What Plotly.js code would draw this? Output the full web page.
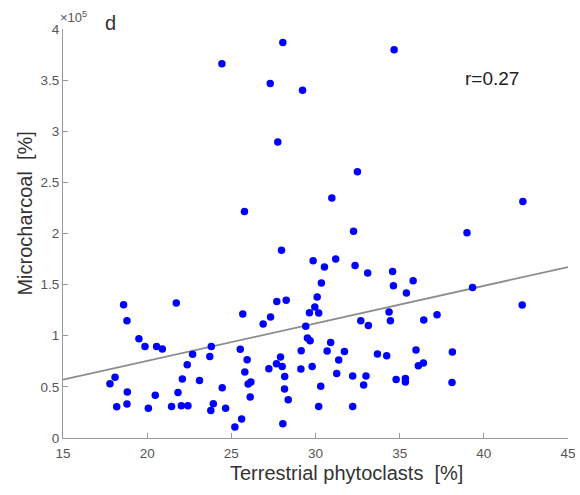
<!DOCTYPE html>
<html>
<head>
<meta charset="utf-8">
<script src="https://cdn.plot.ly/plotly-3.0.1.min.js"></script>
<style>html,body{margin:0;padding:0;background:#fff;}#chart{width:580px;height:495px;}</style>
</head>
<body>
<div id="chart"></div>
<script>
// Terrestrial phytoclasts [%]
var phytoclasts = [
  18.60, 18.80, 21.73, 19.51, 19.87, 20.56, 20.90, 18.09, 17.79, 18.82,
  18.19, 18.80, 20.07, 20.48, 21.45, 22.03, 22.42, 21.83, 22.09, 22.38,
  22.70, 23.11, 23.81, 23.72, 24.46, 23.93, 23.78, 24.66, 33.10, 30.35,
  30.10, 27.70, 28.26, 25.68, 27.33, 26.89, 29.64, 29.96, 30.19, 29.42,
  29.52, 29.68, 32.69, 33.14, 25.53, 25.94, 25.80, 26.16, 26.00, 26.12,
  25.61, 25.21, 27.92, 27.68, 28.02, 27.23, 28.17, 28.16, 28.38, 28.06,
  29.15, 29.13, 29.80, 30.90, 30.69, 31.38, 31.72, 31.26, 30.31, 30.19,
  32.21, 33.00, 32.86, 32.21, 34.58, 34.63, 35.80, 35.40, 39.33, 42.28,
  34.37, 34.45, 36.43, 37.22, 33.68, 34.23, 35.97, 38.13, 36.11, 36.41,
  34.79, 35.34, 35.34, 38.11, 28.06, 24.44, 34.67, 27.31, 29.23, 27.76,
  32.49, 30.97, 42.32, 25.78, 32.26, 39.00, 27.98, 29.86, 31.20, 30.53,
  32.35
];
// Microcharcoal [%]
var microcharcoal = [
  130400, 114700, 132000, 97100, 89600, 89600, 87000, 59300, 53100, 45000,
  30600, 33200, 29000, 41700, 30900, 31600, 31600, 44600, 57700, 71700,
  81800, 56300, 89600, 79800, 49200, 33500, 27000, 29000, 161400, 151600,
  137900, 133600, 134600, 121300, 118300, 111500, 122500, 128100, 122200, 109200,
  97800, 95200, 114700, 110100, 86700, 76600, 64500, 54800, 52800, 40100,
  18600, 10800, 79200, 72700, 70000, 67800, 60200, 47900, 37500, 14000,
  85400, 67500, 70000, 93500, 85100, 76300, 84700, 63200, 50500, 30900,
  60600, 60600, 51800, 30900, 162900, 149000, 153800, 141800, 147300, 130100,
  123200, 114700, 115400, 120600, 82100, 80500, 86100, 84100, 70700, 73300,
  57300, 58300, 54800, 54400, 386900, 366100, 379700, 346800, 340000, 289500,
  260400, 234700, 231400, 221600, 202100, 200800, 183500, 173400, 175000, 167200,
  168800
];
// fitted regression line end points
var fitX = [15, 45];
var fitY = [57000, 167200];
var xTicks = [15, 20, 25, 30, 35, 40, 45];
var yTickVals = [0, 50000, 100000, 150000, 200000, 250000, 300000, 350000, 400000];
var yTickText = ['0', '0.5', '1', '1.5', '2', '2.5', '3', '3.5', '4'];

var FONT = 'Liberation Sans, Arial, sans-serif';

var traces = [
  {
    x: fitX, y: fitY, type: 'scatter', mode: 'lines',
    line: {color: '#8c8c8c', width: 1.8},
    hoverinfo: 'skip', showlegend: false
  },
  {
    x: phytoclasts, y: microcharcoal, type: 'scatter', mode: 'markers',
    marker: {color: '#0000ff', size: 7.5, line: {width: 0}},
    showlegend: false
  }
];

var layout = {
  width: 580, height: 495,
  margin: {l: 63, r: 12, t: 29, b: 57},
  paper_bgcolor: '#fff', plot_bgcolor: '#fff',
  font: {family: FONT, color: '#333'},
  showlegend: false,
  xaxis: {
    range: [15, 45], tickvals: xTicks, ticks: 'inside', ticklen: 5,
    tickcolor: '#9a9a9a', showline: true, linecolor: '#9a9a9a', linewidth: 1,
    showgrid: false, zeroline: false, mirror: false, ticklabelstandoff: 3,
    tickfont: {family: FONT, size: 13.5, color: '#555'}
  },
  yaxis: {
    range: [0, 400000], tickvals: yTickVals, ticktext: yTickText,
    ticks: 'inside', ticklen: 5, tickcolor: '#9a9a9a', showline: true,
    linecolor: '#9a9a9a', linewidth: 1, showgrid: false, zeroline: false,
    tickfont: {family: FONT, size: 13.5, color: '#555'}
  },
  annotations: [
    {xref: 'paper', yref: 'paper', x: 0.3267, y: -0.086, xanchor: 'left', yanchor: 'middle',
     text: 'Terrestrial phytoclasts\u00a0\u00a0[%]', showarrow: false,
     font: {family: FONT, size: 20, color: '#333'}},
    {xref: 'paper', yref: 'paper', x: -0.075, y: 0.549, xanchor: 'center', yanchor: 'middle',
     text: 'Microcharcoal\u00a0\u00a0[%]', textangle: -90, showarrow: false,
     font: {family: FONT, size: 20, color: '#333'}},
    {xref: 'paper', yref: 'paper', x: -0.01, y: 1.03, xanchor: 'left', yanchor: 'middle',
     text: '\u00d710<sup>5</sup>', showarrow: false,
     font: {family: FONT, size: 13, color: '#555'}},
    {xref: 'paper', yref: 'paper', x: 0.095, y: 1.015, xanchor: 'center', yanchor: 'middle',
     text: 'd', showarrow: false,
     font: {family: FONT, size: 20, color: '#333'}},
    {xref: 'paper', yref: 'paper', x: 0.792, y: 0.88, xanchor: 'left', yanchor: 'middle',
     text: 'r=0.27', showarrow: false,
     font: {family: FONT, size: 19, color: '#222'}}
  ]
};

Plotly.newPlot('chart', traces, layout, {displayModeBar: false, staticPlot: true});
</script>
</body>
</html>
